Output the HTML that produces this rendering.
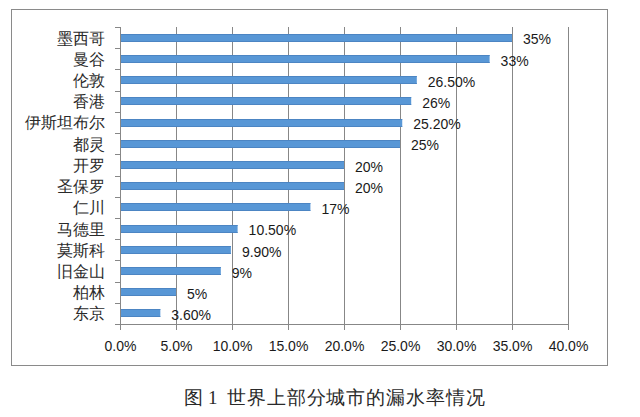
<!DOCTYPE html>
<html><head><meta charset="utf-8"><style>
html,body{margin:0;padding:0;background:#fff;}
svg{display:block;}
.n{font-family:"Liberation Sans",sans-serif;font-size:14px;fill:#1a1a1a;}
.c{font-family:"Liberation Serif",serif;font-size:16px;fill:#2a2a2a;text-anchor:end;}
.cap{font-family:"Liberation Serif",serif;font-size:19px;fill:#2a2a2a;}
</style></head><body>
<svg width="640" height="417" viewBox="0 0 640 417">
<rect x="11.5" y="9.5" width="596" height="356" fill="#fff" stroke="#8a8a8a" stroke-width="1"/>
<line x1="176.5" y1="27" x2="176.5" y2="330" stroke="#878787" stroke-width="1"/>
<line x1="232.5" y1="27" x2="232.5" y2="330" stroke="#878787" stroke-width="1"/>
<line x1="288.5" y1="27" x2="288.5" y2="330" stroke="#878787" stroke-width="1"/>
<line x1="344.5" y1="27" x2="344.5" y2="330" stroke="#878787" stroke-width="1"/>
<line x1="400.5" y1="27" x2="400.5" y2="330" stroke="#878787" stroke-width="1"/>
<line x1="456.5" y1="27" x2="456.5" y2="330" stroke="#878787" stroke-width="1"/>
<line x1="512.5" y1="27" x2="512.5" y2="330" stroke="#878787" stroke-width="1"/>
<line x1="568.5" y1="27" x2="568.5" y2="330" stroke="#878787" stroke-width="1"/>
<rect x="120.5" y="34" width="391.50" height="8" fill="#5897D6"/>
<rect x="120.5" y="34" width="391.50" height="1" fill="#4C85C3"/>
<rect x="120.5" y="41" width="391.50" height="1" fill="#4C85C3"/>
<rect x="120.5" y="55" width="369.10" height="8" fill="#5897D6"/>
<rect x="120.5" y="55" width="369.10" height="1" fill="#4C85C3"/>
<rect x="120.5" y="62" width="369.10" height="1" fill="#4C85C3"/>
<rect x="120.5" y="76" width="296.30" height="8" fill="#5897D6"/>
<rect x="120.5" y="76" width="296.30" height="1" fill="#4C85C3"/>
<rect x="120.5" y="83" width="296.30" height="1" fill="#4C85C3"/>
<rect x="120.5" y="97" width="290.70" height="8" fill="#5897D6"/>
<rect x="120.5" y="97" width="290.70" height="1" fill="#4C85C3"/>
<rect x="120.5" y="104" width="290.70" height="1" fill="#4C85C3"/>
<rect x="120.5" y="119" width="281.74" height="8" fill="#5897D6"/>
<rect x="120.5" y="119" width="281.74" height="1" fill="#4C85C3"/>
<rect x="120.5" y="126" width="281.74" height="1" fill="#4C85C3"/>
<rect x="120.5" y="140" width="279.50" height="8" fill="#5897D6"/>
<rect x="120.5" y="140" width="279.50" height="1" fill="#4C85C3"/>
<rect x="120.5" y="147" width="279.50" height="1" fill="#4C85C3"/>
<rect x="120.5" y="161" width="223.50" height="8" fill="#5897D6"/>
<rect x="120.5" y="161" width="223.50" height="1" fill="#4C85C3"/>
<rect x="120.5" y="168" width="223.50" height="1" fill="#4C85C3"/>
<rect x="120.5" y="182" width="223.50" height="8" fill="#5897D6"/>
<rect x="120.5" y="182" width="223.50" height="1" fill="#4C85C3"/>
<rect x="120.5" y="189" width="223.50" height="1" fill="#4C85C3"/>
<rect x="120.5" y="203" width="189.90" height="8" fill="#5897D6"/>
<rect x="120.5" y="203" width="189.90" height="1" fill="#4C85C3"/>
<rect x="120.5" y="210" width="189.90" height="1" fill="#4C85C3"/>
<rect x="120.5" y="225" width="117.10" height="8" fill="#5897D6"/>
<rect x="120.5" y="225" width="117.10" height="1" fill="#4C85C3"/>
<rect x="120.5" y="232" width="117.10" height="1" fill="#4C85C3"/>
<rect x="120.5" y="246" width="110.38" height="8" fill="#5897D6"/>
<rect x="120.5" y="246" width="110.38" height="1" fill="#4C85C3"/>
<rect x="120.5" y="253" width="110.38" height="1" fill="#4C85C3"/>
<rect x="120.5" y="267" width="100.30" height="8" fill="#5897D6"/>
<rect x="120.5" y="267" width="100.30" height="1" fill="#4C85C3"/>
<rect x="120.5" y="274" width="100.30" height="1" fill="#4C85C3"/>
<rect x="120.5" y="288" width="55.50" height="8" fill="#5897D6"/>
<rect x="120.5" y="288" width="55.50" height="1" fill="#4C85C3"/>
<rect x="120.5" y="295" width="55.50" height="1" fill="#4C85C3"/>
<rect x="120.5" y="309" width="39.82" height="8" fill="#5897D6"/>
<rect x="120.5" y="309" width="39.82" height="1" fill="#4C85C3"/>
<rect x="120.5" y="316" width="39.82" height="1" fill="#4C85C3"/>
<line x1="120.5" y1="27" x2="120.5" y2="330" stroke="#878787" stroke-width="1"/>
<line x1="120.5" y1="324.5" x2="568.5" y2="324.5" stroke="#878787" stroke-width="1"/>
<line x1="115" y1="27.5" x2="120.5" y2="27.5" stroke="#878787" stroke-width="1"/>
<line x1="115" y1="48.5" x2="120.5" y2="48.5" stroke="#878787" stroke-width="1"/>
<line x1="115" y1="69.5" x2="120.5" y2="69.5" stroke="#878787" stroke-width="1"/>
<line x1="115" y1="91.5" x2="120.5" y2="91.5" stroke="#878787" stroke-width="1"/>
<line x1="115" y1="112.5" x2="120.5" y2="112.5" stroke="#878787" stroke-width="1"/>
<line x1="115" y1="133.5" x2="120.5" y2="133.5" stroke="#878787" stroke-width="1"/>
<line x1="115" y1="154.5" x2="120.5" y2="154.5" stroke="#878787" stroke-width="1"/>
<line x1="115" y1="176.5" x2="120.5" y2="176.5" stroke="#878787" stroke-width="1"/>
<line x1="115" y1="197.5" x2="120.5" y2="197.5" stroke="#878787" stroke-width="1"/>
<line x1="115" y1="218.5" x2="120.5" y2="218.5" stroke="#878787" stroke-width="1"/>
<line x1="115" y1="239.5" x2="120.5" y2="239.5" stroke="#878787" stroke-width="1"/>
<line x1="115" y1="260.5" x2="120.5" y2="260.5" stroke="#878787" stroke-width="1"/>
<line x1="115" y1="282.5" x2="120.5" y2="282.5" stroke="#878787" stroke-width="1"/>
<line x1="115" y1="303.5" x2="120.5" y2="303.5" stroke="#878787" stroke-width="1"/>
<line x1="115" y1="324.5" x2="120.5" y2="324.5" stroke="#878787" stroke-width="1"/>
<text x="523.00" y="44.41" class="n">35%</text>
<text x="500.60" y="65.62" class="n">33%</text>
<text x="427.80" y="86.84" class="n">26.50%</text>
<text x="422.20" y="108.05" class="n">26%</text>
<text x="413.24" y="129.26" class="n">25.20%</text>
<text x="411.00" y="150.48" class="n">25%</text>
<text x="355.00" y="171.69" class="n">20%</text>
<text x="355.00" y="192.91" class="n">20%</text>
<text x="321.40" y="214.12" class="n">17%</text>
<text x="248.60" y="235.34" class="n">10.50%</text>
<text x="241.88" y="256.55" class="n">9.90%</text>
<text x="231.80" y="277.76" class="n">9%</text>
<text x="187.00" y="298.98" class="n">5%</text>
<text x="171.32" y="320.19" class="n">3.60%</text>
<text x="105" y="43.61" class="c">墨西哥</text>
<text x="105" y="64.82" class="c">曼谷</text>
<text x="105" y="86.04" class="c">伦敦</text>
<text x="105" y="107.25" class="c">香港</text>
<text x="105" y="128.46" class="c">伊斯坦布尔</text>
<text x="105" y="149.68" class="c">都灵</text>
<text x="105" y="170.89" class="c">开罗</text>
<text x="105" y="192.11" class="c">圣保罗</text>
<text x="105" y="213.32" class="c">仁川</text>
<text x="105" y="234.54" class="c">马德里</text>
<text x="105" y="255.75" class="c">莫斯科</text>
<text x="105" y="276.96" class="c">旧金山</text>
<text x="105" y="298.18" class="c">柏林</text>
<text x="105" y="319.39" class="c">东京</text>
<text x="120.50" y="350.5" class="n" text-anchor="middle">0.0%</text>
<text x="176.50" y="350.5" class="n" text-anchor="middle">5.0%</text>
<text x="232.50" y="350.5" class="n" text-anchor="middle">10.0%</text>
<text x="288.50" y="350.5" class="n" text-anchor="middle">15.0%</text>
<text x="344.50" y="350.5" class="n" text-anchor="middle">20.0%</text>
<text x="400.50" y="350.5" class="n" text-anchor="middle">25.0%</text>
<text x="456.50" y="350.5" class="n" text-anchor="middle">30.0%</text>
<text x="512.50" y="350.5" class="n" text-anchor="middle">35.0%</text>
<text x="568.50" y="350.5" class="n" text-anchor="middle">40.0%</text>
<text x="184" y="404" class="cap">图</text>
<text x="208" y="404" class="cap">1</text>
<text x="227" y="404" class="cap" style="letter-spacing:0.9px">世界上部分城市的漏水率情况</text>
</svg>
</body></html>
